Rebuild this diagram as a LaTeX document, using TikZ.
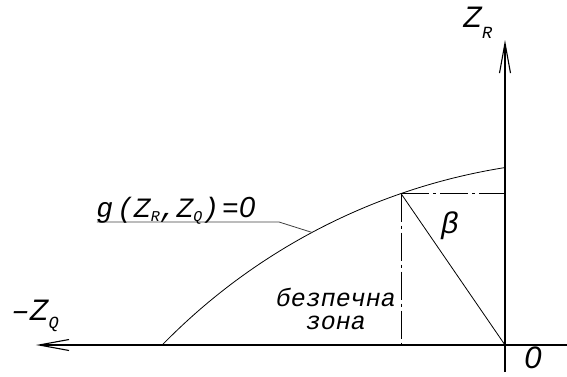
\documentclass[tikz,border=0pt]{standalone}
\usepackage{fontspec}
\newfontfamily\cadfont{Liberation Mono}
\newfontfamily\digfont{Liberation Sans}
\usetikzlibrary{arrows.meta,calc}
\newcommand{\lowidx}[3]{\raisebox{#1}{\fontsize{#2}{#2}\selectfont #3}}

\begin{document}
\begin{tikzpicture}[x=1pt,y=1pt,line width=0.8pt,
    axis/.style={line width=1.1pt,-{Straight Barb[length=30pt,width=11pt]}},
    dashdot/.style={line width=0.9pt,dash pattern=on 28pt off 4pt on 3pt off 4pt},
    axlbl/.style={font=\cadfont\itshape\fontsize{31}{31}\selectfont,inner sep=0pt},
    txtlbl/.style={font=\cadfont\itshape\fontsize{28}{28}\selectfont,inner sep=0pt}]
  \useasboundingbox (-505,-31) rectangle (62,345);
  % axes
  \coordinate (O) at (0,0);
  \coordinate (xend) at (62,0);
  \coordinate (xtip) at (-469,0);
  \coordinate (ybot) at (0,-27);
  \coordinate (ytip) at (0,305);
  \draw[axis] (xend) -- (xtip);
  \draw[axis] (ybot) -- (ytip);
  \node[axlbl,anchor=base west] (zr) at (-42,318) {Z\lowidx{-11pt}{17}{R}};
  \node[axlbl,anchor=base west] (zq) at (-494,25) {\textendash Z\lowidx{-8pt}{17}{Q}};
  \node[axlbl,font=\digfont\itshape\fontsize{31}{31}\selectfont,anchor=base west] (zero) at (19,-23) {0};
  % limit state curve g=0 (circular arc)
  \coordinate (ctr) at (96,-428);
  \draw (ctr) ++(135.7:613pt) arc[start angle=135.7,end angle=99,radius=613pt];
  \coordinate (P) at ($(ctr)+(109.04:613pt)$);
  \coordinate (L) at ($(ctr)+(118.13:613pt)$);
  \coordinate (Px) at (P |- O);
  \coordinate (Py) at (P -| O);
  \draw[dashdot] (P) -- (Py);
  \draw[dashdot] (P) -- (Px);
  \draw (P) -- (O);
  \node[font=\cadfont\itshape\fontsize{30}{30}\selectfont,inner sep=0pt] (beta) at (-55,119) {β};
  % leader
  \coordinate (lead0) at (-408,123);
  \coordinate (lead1) at (-226,123);
  \draw[black!75] (lead0) -- (lead1) -- (L);
  \node[txtlbl,anchor=base west] (g) at (-409,128) {g\hspace{4pt}(Z\lowidx{-4pt}{15}{R},Z\lowidx{-4pt}{15}{Q})\hspace{3pt}={\digfont\fontsize{29}{29}\selectfont 0}};
  \node[font=\cadfont\itshape\fontsize{25}{23}\selectfont,align=center,inner sep=0pt] (zone) at (-169,36) {безпечна\\зона};
\end{tikzpicture}
\end{document}
